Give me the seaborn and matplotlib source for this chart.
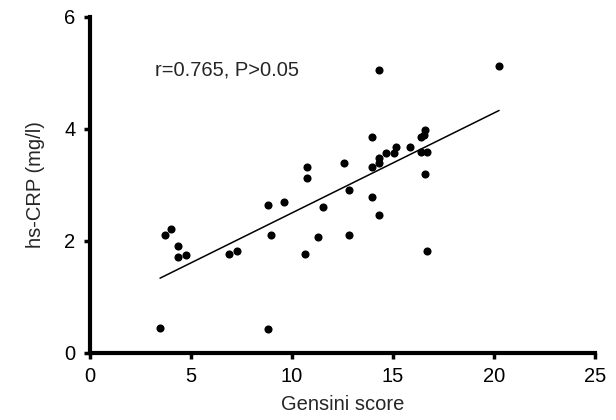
import pandas as pd
import seaborn as sns
import matplotlib.pyplot as plt

# values
gensini = [3.47, 3.73, 4.0, 4.37, 4.37, 4.75, 6.88, 7.29, 8.83, 8.96, 8.83, 9.6,
           10.66, 10.76, 10.76, 11.3, 11.55, 12.59, 12.84, 12.84, 13.94, 13.94,
           13.94, 14.32, 14.32, 14.32, 14.32, 14.65, 15.07, 15.13, 15.86, 16.37,
           16.37, 16.53, 16.6, 16.6, 16.67, 16.67, 20.25]
hs_crp = [0.44, 2.11, 2.21, 1.91, 1.71, 1.74, 1.76, 1.81, 2.64, 2.10, 0.43, 2.69,
          1.76, 3.31, 3.12, 2.07, 2.60, 3.39, 2.91, 2.11, 3.86, 3.31,
          2.79, 5.05, 3.39, 3.48, 2.46, 3.57, 3.57, 3.68, 3.68, 3.86,
          3.58, 3.89, 3.97, 3.20, 3.58, 1.82, 5.12]

df = pd.DataFrame({"Gensini score": gensini, "hs-CRP (mg/l)": hs_crp})

sns.set_style("ticks")
plt.rcParams["font.family"] = ["Liberation Sans", "DejaVu Sans"]

fig = plt.figure(figsize=(6.16, 4.2), dpi=100)
ax = fig.add_axes([0.146, 0.16, 0.82, 0.80])
sns.regplot(data=df, x="Gensini score", y="hs-CRP (mg/l)", ci=None, ax=ax,
            scatter_kws={"s": 34, "color": "black", "alpha": 1, "linewidths": 0},
            line_kws={"color": "black", "linewidth": 1.1})

ax.set_xlim(0, 25)
ax.set_ylim(0, 6)
ax.set_xticks([0, 5, 10, 15, 20, 25])
ax.set_yticks([0, 2, 4, 6])
ax.text(3.2, 5.05, "r=0.765, P>0.05", fontsize=14.5, va="center")
ax.set_xlabel("Gensini score", fontsize=14.5, labelpad=6)
ax.set_ylabel("hs-CRP (mg/l)", fontsize=14.5, labelpad=14)
ax.tick_params(labelsize=14.5, width=2.5, length=4.5, direction="out",
               color="black", labelcolor="black", pad=6)
for s in ["left", "bottom"]:
    ax.spines[s].set_linewidth(3)
    ax.spines[s].set_color("black")
sns.despine(ax=ax)

fig.savefig("out.png", dpi=100)
